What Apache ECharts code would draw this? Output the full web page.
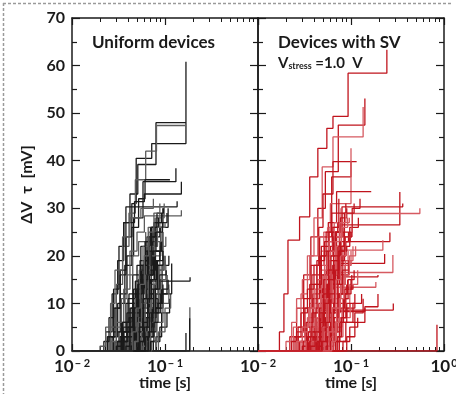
<!DOCTYPE html>
<html>
<head>
<meta charset="utf-8">
<script src="https://cdn.jsdelivr.net/npm/echarts@6/dist/echarts.min.js"></script>
<style>
html,body{margin:0;padding:0;background:#fff;}
#c{width:456px;height:394px;}
</style>
</head>
<body>
<div id="c"></div>
<script>
// ---- data (time in ms, ΔV in mV); each trace is a staircase of [time, value] steps ----
const panelTitles = ['Uniform devices', 'Devices with SV'];
const xAxisName = 'time [s]';
const yAxisName = 'ΔV  τ  [mV]';
const yTicks = [0, 10, 20, 30, 40, 50, 60, 70];
const xMajorTicks = [0.01, 0.1, 1];
const xMinorTicks = [0.02,0.03,0.04,0.05,0.06,0.07,0.08,0.09,0.2,0.3,0.4,0.5,0.6,0.7,0.8,0.9];

const leftTraces = [
  [[24,3],[28,9],[33,16],[38,24],[44,31],[49,40.5],[72,43.6],[168,60.8]],
  [[23,4],[27,12],[31,19],[36,27],[42,33],[51,39.2],[80,48],[168,48]],
  [[26,5],[30,14],[35,22],[41,29],[48,36],[62,42],[81,47.4],[165,47.4]],
  [[28,4],[33,12],[39,20],[46,28],[58,35.6],[131,38.4]],
  [[27,3],[31,10],[37,18],[44,26],[52,32],[61,36],[113,36]],
  [[30,5],[36,13],[42,21],[50,25],[60,28.4],[150,29.6]],
  [[25,3],[29,9],[33,17],[38,30.3],[135,31.5]],
  [[22,2],[25,7],[28,13],[32,22],[36,27],[47,31.4],[60,33],[150,35.6]],
  [[20,1],[23,5],[26,10],[29,17],[35,24],[42,28],[55,30],[75,32]],
  [[32,4],[38,10],[45,16],[55,22],[70,26],[95,30]],
  [[35,6],[41,12],[50,18],[62,23],[80,27],[105,29]],
  [[40,3],[47,9],[56,15],[66,19],[88,23]],
  [[29,2],[34,6],[40,11],[48,14.7],[186,15.5]],
  [[45,5],[52,10],[62,16],[75,21],[95,25]],
  [[38,2],[44,7],[52,12],[60,17],[72,20],[90,22]],
  [[50,4],[58,8],[68,13],[80,18],[100,20]],
  [[55,3],[62,7],[72,11],[85,15]],
  [[42,5],[50,11],[58,18],[68,24],[80,28],[98,31]],
  [[33,3],[39,8],[46,13],[54,19],[64,24],[78,26]],
  [[60,2],[68,6],[78,10],[92,13]],
  [[48,6],[55,13],[64,20],[74,25],[88,29]],
  [[36,4],[43,9],[51,14],[61,20],[73,23]],
  [[65,3],[74,8],[86,12],[105,16]],
  [[52,2],[60,5],[70,9],[85,12],[110,13]],
  [[44,3],[51,7],[59,11],[70,15],[83,19]],
  [[70,4],[80,9],[95,14]],
  [[58,5],[66,10],[76,16],[88,22],[102,24]],
  [[31,2],[36,5],[42,9],[50,13],[60,16],[75,18]],
  [[75,2],[88,5],[105,8]],
  [[47,2],[53,5],[61,8],[71,12],[84,14]],
  [[39,4],[45,10],[53,16],[62,21],[72,26],[85,28]],
  [[62,3],[70,7],[80,12],[93,18],[110,20]],
  [[54,4],[61,9],[70,14],[82,17],[97,20]],
  [[80,3],[92,8],[112,11]],
  [[43,1],[49,4],[57,8],[66,12],[78,14]],
  [[68,5],[77,10],[89,15],[102,18]],
  [[37,3],[42,7],[48,12],[56,17],[66,22],[79,25]],
  [[57,2],[64,5],[73,9],[84,11]],
  [[85,4],[100,9],[115,12]],
  [[66,3],[76,8],[90,12],[118,18.4]],
  [[168,3.8]],
  [[185,9.2]],
  [[184,6.9]],
  [[46,2],[52,6],[59,10],[67,15],[77,21],[90,26],[108,30]],
  [[26,2],[30,6],[34,11],[39,16],[45,20],[52,23],[62,25]],
  [[34,2],[39,6],[45,10],[52,15],[60,19],[70,22],[82,24]],
  [[41,2],[47,6],[54,11],[63,16],[74,19],[88,21]],
  [[72,2],[82,6],[95,10],[110,14]],
  [[50,2],[56,4],[64,7],[74,9],[90,10]],
  [[30,1],[35,4],[41,7],[48,10],[57,13],[68,15]],
  [[40,2],[44,6],[48,11],[53,17],[58,22],[66,26],[78,28]],
  [[46,3],[50,8],[55,14],[60,19],[67,24],[76,27],[92,29]],
  [[52,3],[57,9],[62,15],[68,20],[76,24],[88,26]],
  [[56,4],[61,10],[66,17],[73,22],[83,26],[100,27]],
  [[44,1],[48,5],[53,10],[58,15],[64,18],[73,21]],
  [[60,5],[65,11],[71,17],[79,21],[92,23]],
  [[48,2],[52,7],[57,13],[63,18],[70,22],[80,24]],
  [[54,2],[59,6],[65,11],[72,15],[81,19],[95,21]],
  [[38,1],[42,5],[47,9],[52,14],[58,18],[65,21]],
  [[64,2],[70,6],[77,12],[86,17],[98,19]],
  [[50,4],[54,9],[59,15],[65,21],[72,26],[82,29],[96,30]],
  [[42,3],[46,8],[50,13],[55,18],[61,23],[70,26]],
  [[58,1],[63,4],[69,9],[76,14],[85,18],[100,19]],
  [[36,2],[40,5],[45,9],[50,12],[57,16],[66,18]],
  [[66,4],[72,8],[79,13],[88,16],[103,17]],
  [[47,2],[51,6],[56,10],[62,16],[69,20],[78,23],[90,25]],
  [[53,5],[58,11],[64,16],[71,21],[80,25],[94,27]],
  [[62,3],[68,8],[75,13],[83,18],[95,21]],
  [[45,4],[49,9],[54,14],[60,20],[67,25],[76,29],[88,31]],
  [[70,2],[76,6],[84,10],[95,13],[108,15]]
];

const rightTraces = [
  [[17,4],[19,12],[21,23.3],[28,28.2],[36,36.6],[44,42.6],[55,46.8],[64,49.3],[93,58.4],[243,63.3]],
  [[22,3],[26,9],[31,16],[37,24],[44,30],[53,37.7],[73,47.5],[141,53.1]],
  [[24,5],[29,12],[34,20],[40,28],[49,38.7],[64,45],[135,51.3]],
  [[26,4],[31,11],[37,18],[45,26],[50,33],[64,39.8],[115,39.8]],
  [[27,3],[32,9],[38,16],[46,24],[62,36.6],[100,40]],
  [[30,4],[36,10],[43,18],[51,25],[60,31],[100,42.6]],
  [[33,5],[39,12],[47,20],[57,27],[70,33.5],[165,33.5]],
  [[35,3],[42,9],[50,16],[60,22],[75,26.5],[335,33.4]],
  [[29,2],[34,7],[40,14],[48,21],[58,26],[80,28.9],[550,30]],
  [[38,4],[45,10],[54,17],[65,24],[80,30.3],[360,31]],
  [[40,3],[48,8],[57,14],[68,19],[85,23],[262,24.9]],
  [[36,2],[42,6],[50,11],[60,16.5],[282,20.2]],
  [[31,2],[37,5],[45,8.6],[285,10]],
  [[840,5.5]],
  [[44,5],[52,11],[62,17],[76,21.2],[220,23.3]],
  [[42,4],[50,10],[60,14],[72,18.4],[230,20.4]],
  [[46,3],[55,8],[66,12],[80,15.6],[195,16]],
  [[39,2],[46,6],[55,10],[66,13.4],[185,14.5]],
  [[50,3],[60,6],[141,9.3],[195,12]],
  [[48,2],[58,5],[70,8.3],[141,9]],
  [[20,2],[23,6],[26,11],[30,15],[36,20],[44,24],[56,26]],
  [[25,3],[29,8],[34,13],[40,18],[48,22],[58,25],[72,27]],
  [[28,2],[33,6],[39,11],[46,16],[55,21],[66,24],[82,26]],
  [[32,4],[37,9],[44,15],[52,20],[63,24],[78,27],[96,28]],
  [[34,1],[40,5],[47,10],[56,14],[67,18],[82,20]],
  [[37,3],[43,7],[51,12],[61,17],[74,21],[90,22]],
  [[41,2],[48,6],[57,11],[68,15],[82,18],[100,19]],
  [[43,4],[51,9],[61,15],[73,20],[88,23]],
  [[45,2],[53,5],[63,9],[75,12],[90,14]],
  [[47,3],[55,7],[65,11],[78,16],[95,18]],
  [[52,2],[61,6],[72,10],[86,13],[105,14]],
  [[55,3],[64,8],[76,12],[92,15]],
  [[58,2],[68,5],[80,9],[97,11]],
  [[62,4],[72,9],[85,13],[102,16]],
  [[65,2],[76,6],[90,9],[110,10]],
  [[70,3],[82,7],[98,10]],
  [[30,1],[35,4],[41,8],[49,13],[58,17],[70,20],[88,22]],
  [[23,2],[27,5],[31,9],[36,14],[43,19],[52,23],[63,25],[80,26]],
  [[33,2],[38,5],[45,9],[53,13],[63,16],[76,19],[93,21]],
  [[39,3],[46,8],[54,13],[64,18],[77,23],[94,25]],
  [[49,5],[57,10],[67,16],[80,22],[97,26],[120,28]],
  [[53,4],[62,9],[73,14],[87,19],[105,22]],
  [[56,1],[65,4],[76,7],[90,10],[110,12]],
  [[75,2],[88,6],[105,10],[130,12]],
  [[60,3],[70,7],[82,11],[97,14],[118,17]],
  [[44,3],[51,8],[60,14],[71,20],[85,25],[103,30],[125,32]],
  [[36,2],[42,7],[49,13],[58,19],[70,25],[85,29],[108,31]],
  [[26,2],[30,5],[35,9],[41,13],[48,17],[57,20],[68,22]],
  [[90,3],[110,8],[135,11]],
  [[82,2],[97,5],[118,7]],
  [[38,2],[42,7],[47,12],[52,18],[58,23],[66,27],[78,30]],
  [[42,3],[46,9],[51,15],[57,21],[64,26],[74,29],[88,31]],
  [[48,2],[53,7],[58,13],[64,18],[72,22],[84,25]],
  [[52,4],[57,10],[63,16],[70,22],[79,26],[92,28]],
  [[45,1],[50,5],[55,10],[61,15],[68,19],[78,22]],
  [[56,3],[61,8],[67,14],[75,19],[85,23],[98,25]],
  [[40,2],[44,6],[49,11],[54,16],[60,21],[68,24],[80,26]],
  [[60,2],[66,7],[73,12],[82,16],[94,19]],
  [[34,3],[38,8],[43,14],[48,20],[54,25],[62,29],[74,32]],
  [[64,4],[70,9],[77,14],[86,18],[100,21]],
  [[46,3],[50,8],[55,14],[61,20],[68,25],[77,28],[90,30]],
  [[54,1],[59,5],[65,10],[72,14],[81,17],[94,19]],
  [[50,5],[55,11],[61,17],[68,23],[76,27],[88,29]],
  [[68,2],[75,6],[83,11],[93,15],[108,17]],
  [[43,2],[47,6],[52,10],[58,15],[65,19],[74,22],[86,24]],
  [[58,4],[63,9],[69,15],[77,20],[87,24],[102,26]],
  [[37,1],[41,4],[46,8],[51,12],[57,17],[65,20],[76,23]],
  [[72,3],[79,7],[88,12],[100,15]],
  [[62,2],[68,6],[75,11],[84,16],[96,20],[112,22]],
  [[49,2],[54,6],[59,12],[66,17],[74,21],[86,24],[102,25]]
];

// ---- chart ----
const FONT = 'Lato, "Open Sans", sans-serif';
const INK = '#1a1a1a';
const leftColors = ['#1a1a1a', '#1a1a1a', '#5c5c5c'];
const rightColors = ['#c0141d', '#c0141d', '#d65a61'];

function xLabel(v, hideOne) {
  const e = Math.round(Math.log10(v));
  if (hideOne && e === 0) return '';
  if (e === 0) return '{b|10}{s|0}';
  return '{b|10}{s|− ' + (-e) + '}';
}

const xAxes = [];
const yAxes = [];
for (let g = 0; g < 2; g++) {
  const base = {type: 'log', logBase: 10, min: 0.01, max: 1, gridIndex: g, splitLine: {show: false}};
  xAxes.push(Object.assign({}, base, {
    position: 'bottom',
    axisLine: {show: true, lineStyle: {color: INK, width: 1.5}},
    axisTick: {show: true, inside: true, length: 7, lineStyle: {color: INK, width: 1.2}, customValues: xMajorTicks},
    axisLabel: {
      show: true, margin: 7, customValues: xMajorTicks,
      formatter: v => xLabel(v, g === 0),
      rich: {
        b: {fontSize: 17, fontWeight: 'bold', fontFamily: FONT, color: INK, lineHeight: 17, verticalAlign: 'top'},
        s: {fontSize: 11, fontWeight: 'bold', fontFamily: FONT, color: INK, lineHeight: 11, verticalAlign: 'top', padding: [0, 0, 0, 1]}
      }
    },
    name: xAxisName, nameLocation: 'middle', nameGap: 24, nameMoveOverlap: false,
    nameTextStyle: {fontSize: 16, fontWeight: 'bold', fontFamily: FONT, color: INK}
  }));
  xAxes.push(Object.assign({}, base, {
    position: 'bottom', axisLine: {show: false},
    axisTick: {show: true, inside: true, length: 4, lineStyle: {color: INK, width: 1}, customValues: xMinorTicks},
    axisLabel: {show: false}
  }));
  xAxes.push(Object.assign({}, base, {
    position: 'top',
    axisLine: {show: true, lineStyle: {color: INK, width: 1.5}},
    axisTick: {show: true, inside: true, length: 7, lineStyle: {color: INK, width: 1.2}, customValues: xMajorTicks},
    axisLabel: {show: false}
  }));
  xAxes.push(Object.assign({}, base, {
    position: 'top', axisLine: {show: false},
    axisTick: {show: true, inside: true, length: 4, lineStyle: {color: INK, width: 1}, customValues: xMinorTicks},
    axisLabel: {show: false}
  }));
  const ybase = {
    type: 'value', min: yTicks[0], max: yTicks[yTicks.length - 1], interval: 10, gridIndex: g,
    splitLine: {show: false}, minorSplitLine: {show: false},
    axisLine: {show: true, lineStyle: {color: INK, width: 1.5}},
    axisTick: {show: true, inside: true, length: 8, lineStyle: {color: INK, width: 1.2}},
    minorTick: {show: true, splitNumber: 2, length: 5, lineStyle: {color: INK, width: 1.2}}
  };
  yAxes.push(Object.assign({}, ybase, {
    position: 'left',
    axisLabel: {show: g === 0, margin: 7, fontSize: 16, fontWeight: 'bold', fontFamily: FONT, color: INK},
    name: g === 0 ? yAxisName : '', nameLocation: 'middle', nameGap: 37, nameMoveOverlap: false,
    nameTextStyle: {fontSize: 16, fontWeight: 'bold', fontFamily: FONT, color: INK}
  }));
  yAxes.push(Object.assign({}, ybase, {position: 'right', axisLabel: {show: false}}));
}

const series = [];
function addTraces(traces, g, colors) {
  traces.forEach((tr, i) => {
    const data = [[0.01, 0]].concat(tr.map(p => [p[0] / 1000, p[1]]));
    series.push({
      type: 'line', step: 'end', data: data,
      xAxisIndex: g * 4, yAxisIndex: g * 2,
      showSymbol: false, symbol: 'none', silent: true,
      lineStyle: {color: colors[i % 3], width: 1.3},
      z: 2
    });
  });
}
addTraces(leftTraces, 0, leftColors);
addTraces(rightTraces, 1, rightColors);

const chart = echarts.init(document.getElementById('c'), null, {renderer: 'canvas'});
chart.setOption({
  animation: false,
  backgroundColor: '#fff',
  grid: [
    {left: 72, top: 18, width: 186, height: 333, outerBoundsMode: 'none', containLabel: false},
    {left: 258, top: 18, width: 186, height: 333, outerBoundsMode: 'none', containLabel: false}
  ],
  xAxis: xAxes,
  yAxis: yAxes,
  series: series,
  graphic: [
    {type: 'line', shape: {x1: 3, y1: 3.5, x2: 452, y2: 3.5}, style: {stroke: '#9a9a9a', lineWidth: 1.5, lineDash: [3, 2]}},
    {type: 'line', shape: {x1: 3.5, y1: 3, x2: 3.5, y2: 394}, style: {stroke: '#9a9a9a', lineWidth: 1.5, lineDash: [3, 2]}},
    {type: 'text', left: 92, top: 34, style: {text: panelTitles[0], font: 'bold 17px ' + FONT, fill: INK}},
    {type: 'text', left: 278, top: 34, style: {text: panelTitles[1], font: 'bold 17px ' + FONT, fill: INK}},
    {type: 'text', left: 278, top: 56, style: {
      text: '{v|V}{s|stress}{v| =1.0  V}',
      rich: {
        v: {fontSize: 15, fontWeight: 'bold', fontFamily: FONT, fill: INK, verticalAlign: 'bottom', lineHeight: 16},
        s: {fontSize: 9, fontWeight: 'bold', fontFamily: FONT, fill: INK, verticalAlign: 'bottom', lineHeight: 9}
      }
    }}
  ]
});
</script>
</body>
</html>
